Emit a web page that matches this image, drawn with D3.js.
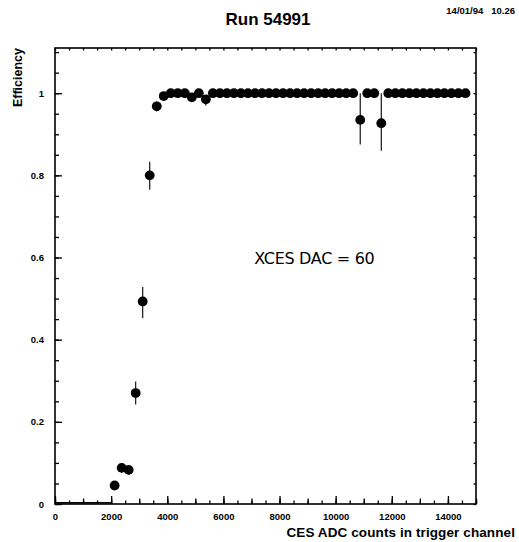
<!DOCTYPE html>
<html>
<head>
<meta charset="utf-8">
<script src="https://cdn.jsdelivr.net/npm/d3@7"></script>
<style>
  html, body { margin: 0; padding: 0; background: #fff; }
  svg { display: block; font-family: "Liberation Sans", Arial, Helvetica, sans-serif; }
</style>
</head>
<body>
<svg id="chart" width="519" height="542"></svg>
<script>
// ---- data ----
const binCenters = [125,375,625,875,1125,1375,1625,1875,2125,2375,2625,2875,3125,3375,3625,3875,
  4125,4375,4625,4875,5125,5375,5625,5875,6125,6375,6625,6875,7125,7375,7625,7875,8125,8375,
  8625,8875,9125,9375,9625,9875,10125,10375,10625,10875,11125,11375,11625,11875,12125,12375,
  12625,12875,13125,13375,13625,13875,14125,14375,14625];
const efficiency = [0,0,0,0,0,0,0,0,0.045,0.088,0.083,0.270,0.493,0.800,0.968,0.993,
  1,1,1,0.990,1,0.985,1,1,1,1,1,1,1,1,1,1,1,1,
  1,1,1,1,1,1,1,1,1,0.935,1,1,0.927,1,1,1,
  1,1,1,1,1,1,1,1,1];
const errHigh = [0,0,0,0,0,0,0,0,0.010,0.012,0.012,0.028,0.035,0.033,0.012,0.005,
  0,0,0,0.007,0,0.010,0,0,0,0,0,0,0,0,0,0,0,0,
  0,0,0,0,0,0,0,0,0,0.065,0,0,0.073,0,0,0,
  0,0,0,0,0,0,0,0,0];
const errLow = [0,0,0,0,0,0,0,0,0.010,0.012,0.012,0.028,0.040,0.035,0.012,0.005,
  0,0,0,0.007,0,0.015,0,0,0,0,0,0,0,0,0,0,0,0,
  0,0,0,0,0,0,0,0,0,0.060,0,0,0.067,0,0,0,
  0,0,0,0,0,0,0,0,0];
const binHalfWidth = 125;
const xTickValues = [0,2000,4000,6000,8000,10000,12000,14000];
const yTickValues = [0,0.2,0.4,0.6,0.8,1];
const titleText = "Run 54991";
const dateText = "14/01/94   10.26";
const xLabel = "CES ADC counts in trigger channel";
const yLabel = "Efficiency";
const annotation = "XCES DAC = 60";
const annotationPos = [7100, 0.585];

// ---- drawing ----
const svg = d3.select("#chart");
const x = d3.scaleLinear().domain([0, 15000]).range([55, 476]);
const y = d3.scaleLinear().domain([0, 1.11]).range([504, 48]);

const points = binCenters.map((c, i) => ({x: c, y: efficiency[i], lo: errLow[i], hi: errHigh[i]}));

// frame
svg.append("rect")
  .attr("x", x.range()[0]).attr("y", y.range()[1])
  .attr("width", x.range()[1] - x.range()[0])
  .attr("height", y.range()[0] - y.range()[1])
  .attr("fill", "none").attr("stroke", "#000").attr("stroke-width", 1.6);

function styleAxis(g, fontSize) {
  g.select(".domain").remove();
  g.selectAll(".tick line").attr("stroke", "#000").attr("stroke-width", 1.3);
  g.selectAll(".tick text").attr("fill", "#000").attr("font-size", fontSize)
    .attr("font-weight", "bold").attr("font-family", "'Liberation Sans', Arial, sans-serif");
}

// x minor ticks
const xb = y.range()[0];
svg.append("g").attr("transform", `translate(0,${xb})`)
  .call(d3.axisBottom(x).tickValues(x.ticks(30)).tickSize(-3.5).tickFormat(""))
  .call(g => styleAxis(g, 9));
svg.append("g").attr("transform", `translate(0,${xb})`)
  .call(d3.axisBottom(x).tickValues(x.ticks(15)).tickSize(-5.5).tickFormat(""))
  .call(g => styleAxis(g, 9));
svg.append("g").attr("transform", `translate(0,${xb})`)
  .call(d3.axisBottom(x).tickValues(xTickValues).tickSize(-8).tickPadding(9).tickFormat(d3.format("d")))
  .call(g => styleAxis(g, 9.5));
// top mirrored minor ticks
svg.append("g").attr("transform", `translate(0,${y.range()[1]})`)
  .call(d3.axisTop(x).tickValues(x.ticks(30)).tickSize(-2.5).tickFormat(""))
  .call(g => styleAxis(g, 9));

// y ticks
const yl = x.range()[0];
svg.append("g").attr("transform", `translate(${yl},0)`)
  .call(d3.axisLeft(y).tickValues(y.ticks(22)).tickSize(-4).tickFormat(""))
  .call(g => styleAxis(g, 9));
svg.append("g").attr("transform", `translate(${yl},0)`)
  .call(d3.axisLeft(y).tickValues(yTickValues).tickSize(-7).tickPadding(11).tickFormat(d3.format("~g")))
  .call(g => styleAxis(g, 9.5));
// right mirrored minor ticks
svg.append("g").attr("transform", `translate(${x.range()[1]},0)`)
  .call(d3.axisRight(y).tickValues(y.ticks(22)).tickSize(-2.5).tickFormat(""))
  .call(g => styleAxis(g, 9));

// horizontal bin-width bars
const plot = svg.append("g");
plot.selectAll("line.hbar").data(points).join("line")
  .attr("class", "hbar")
  .attr("x1", d => x(d.x - binHalfWidth)).attr("x2", d => x(d.x + binHalfWidth))
  .attr("y1", d => y(d.y) - (d.y === 0 ? 1.2 : 0)).attr("y2", d => y(d.y) - (d.y === 0 ? 1.2 : 0))
  .attr("stroke", "#000").attr("stroke-width", 1.6);
// vertical error bars
plot.selectAll("line.vbar").data(points.filter(d => d.lo > 0 || d.hi > 0)).join("line")
  .attr("class", "vbar")
  .attr("x1", d => x(d.x)).attr("x2", d => x(d.x))
  .attr("y1", d => y(d.y + d.hi)).attr("y2", d => y(d.y - d.lo))
  .attr("stroke", "#000").attr("stroke-width", 1.1);
// markers
plot.selectAll("circle").data(points.filter(d => d.y > 0)).join("circle")
  .attr("cx", d => x(d.x)).attr("cy", d => y(d.y)).attr("r", 4.9)
  .attr("fill", "#000");

// texts
svg.append("text").attr("x", 268).attr("y", 25).attr("text-anchor", "middle")
  .attr("font-size", 17).attr("font-weight", "bold").text(titleText);
svg.append("text").attr("x", 515).attr("y", 14).attr("text-anchor", "end")
  .attr("font-size", 9.5).attr("font-weight", "bold").style("white-space", "pre")
  .attr("xml:space", "preserve").text(dateText);
svg.append("text").attr("x", 515).attr("y", 537).attr("text-anchor", "end")
  .attr("font-size", 13.5).attr("font-weight", "bold").attr("letter-spacing", 0.1).text(xLabel);
svg.append("text").attr("transform", "translate(22,48) rotate(-90)").attr("text-anchor", "end")
  .attr("font-size", 12.5).attr("font-weight", "bold").text(yLabel);
svg.append("text").attr("x", x(annotationPos[0])).attr("y", y(annotationPos[1]))
  .attr("font-size", 16).attr("font-weight", "normal").attr("font-family", "'DejaVu Sans', sans-serif")
  .attr("letter-spacing", -0.3).text(annotation);
</script>
</body>
</html>
